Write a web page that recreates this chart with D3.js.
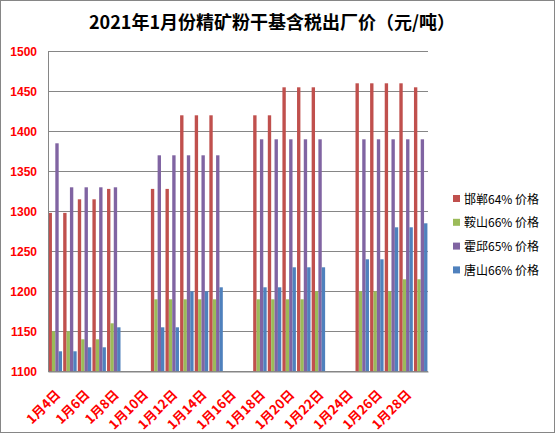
<!DOCTYPE html>
<html><head><meta charset="utf-8">
<script src="https://cdn.jsdelivr.net/npm/d3@7"></script>
<style>body{margin:0;background:#fff}svg{display:block}</style>
</head><body>
<svg id="c" width="556" height="434"></svg>
<script>
const title = "2021年1月份精矿粉干基含税出厂价（元/吨）";
const dates = ["1月4日","1月5日","1月6日","1月7日","1月8日","1月9日","1月10日","1月11日","1月12日","1月13日","1月14日","1月15日","1月16日","1月17日","1月18日","1月19日","1月20日","1月21日","1月22日","1月23日","1月24日","1月25日","1月26日","1月27日","1月28日","1月29日"];
const seriesNames = ["邯郸64% 价格","鞍山66% 价格","霍邱65% 价格","唐山66% 价格"];
const handan   = [1298,1298,1315,1315,1328,null,null,1328,1328,1420,1420,1420,null,null,1420,1420,1455,1455,1455,null,null,1460,1460,1460,1460,1455];
const anshan   = [1150,1150,1140,1140,1160,null,null,1190,1190,1190,1190,1190,null,null,1190,1190,1190,1190,1200,null,null,1200,1200,1200,1215,1215];
const huoqiu   = [1385,1330,1330,1330,1330,null,null,1370,1370,1370,1370,1370,null,null,1390,1390,1390,1390,1390,null,null,1390,1390,1390,1390,1390];
const tangshan = [1125,1125,1130,1130,1155,null,null,1155,1155,1200,1200,1205,null,null,1205,1205,1230,1230,1230,null,null,1240,1240,1280,1280,1285];
const yTicks = [1100,1150,1200,1250,1300,1350,1400,1450,1500];
const colors = ["#C0504D","#9BBB59","#8064A2","#4F81BD"];
const seriesData = [handan, anshan, huoqiu, tangshan];

const svg = d3.select("#c");
const W = 556, H = 434;
const m = {l:48, r:428, t:51.3, b:371.3};

svg.append("rect").attr("x",0.5).attr("y",0.5).attr("width",W-2).attr("height",H-2)
  .attr("fill","#fff").attr("stroke","#868686").attr("stroke-width",1);

svg.append("text").attr("x",272).attr("y",29).attr("text-anchor","middle")
  .attr("font-family","'Noto Sans CJK SC', sans-serif").attr("font-weight","bold")
  .attr("font-size",18).attr("fill","#000").text(title);

const x = d3.scaleBand().domain(dates).range([m.l, m.r]).paddingInner(0).paddingOuter(0);
const x1 = d3.scaleBand().domain(d3.range(4)).range([0, x.bandwidth()]).paddingInner(0).paddingOuter(0.17);
const y = d3.scaleLinear().domain([1100,1500]).range([m.b, m.t]);

// gridlines
svg.append("g").selectAll("line").data(yTicks).join("line")
  .attr("x1",m.l).attr("x2",m.r).attr("y1",d=>Math.round(y(d))+0.5).attr("y2",d=>Math.round(y(d))+0.5)
  .attr("stroke","#868686").attr("stroke-width",1);

// bars
const gBars = svg.append("g");
dates.forEach((dt,i)=>{
  seriesData.forEach((s,k)=>{
    const v = s[i];
    if (v==null) return;
    gBars.append("rect")
      .attr("x", x(dt)+x1(k)).attr("width", x1.bandwidth())
      .attr("y", y(v)).attr("height", y(1100)-y(v))
      .attr("fill", colors[k]);
  });
});

// axes
const yAxis = d3.axisLeft(y).tickValues(yTicks).tickFormat(d3.format("d")).tickSize(0).tickPadding(11);
const gy = svg.append("g").attr("transform",`translate(${m.l},0)`).call(yAxis);
gy.select(".domain").attr("stroke","#868686");
gy.selectAll("text").attr("fill","#FF0000").attr("font-family","'Liberation Sans', Arial, sans-serif")
  .attr("font-weight","bold").attr("font-size",12);

const xAxis = d3.axisBottom(x).tickValues(dates.filter((d,i)=>i%2===0)).tickSize(0).tickSizeOuter(0);
const gx = svg.append("g").attr("transform",`translate(0,${Math.round(m.b)+0.5})`).call(xAxis);
gx.select(".domain").attr("stroke","#868686");
gx.selectAll("text").attr("fill","#FF0000").attr("font-family","'Noto Sans CJK SC', sans-serif")
  .attr("font-weight","bold").attr("font-size",13)
  .attr("text-anchor","end").attr("dy",null).attr("y",null)
  .attr("transform","translate(6,24) rotate(-45)");

// legend
const lg = svg.append("g").attr("transform","translate(453,199)");
seriesNames.forEach((n,k)=>{
  const g = lg.append("g").attr("transform",`translate(0,${k*23.8})`);
  g.append("rect").attr("x",0).attr("y",-4).attr("width",7).attr("height",7).attr("fill",colors[k]);
  g.append("text").attr("x",11).attr("y",4.5).attr("font-family","'Noto Sans CJK SC', sans-serif")
    .attr("font-size",12).attr("fill","#000").text(n);
});
</script>
</body></html>
